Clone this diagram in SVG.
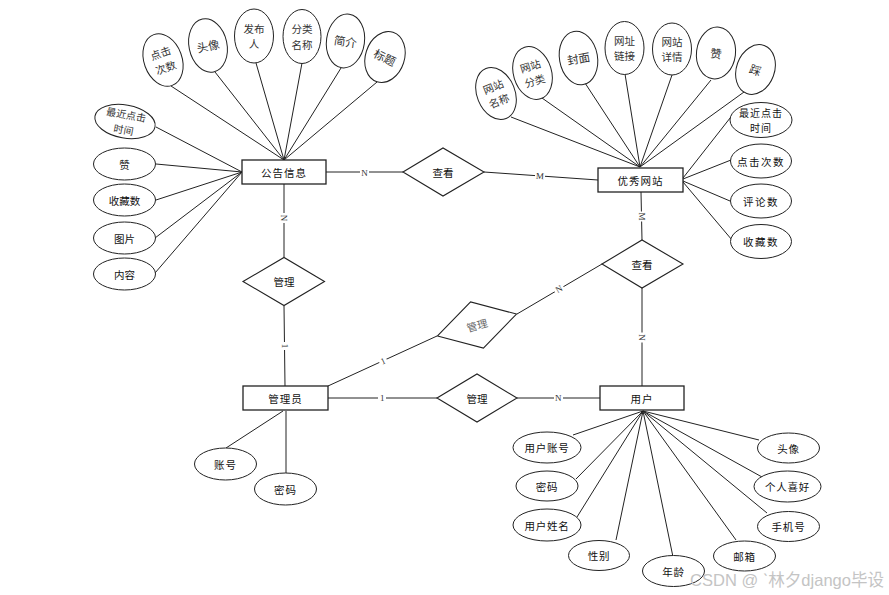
<svg xmlns="http://www.w3.org/2000/svg" width="889" height="595" viewBox="0 0 889 595">
<style>
  .ent { fill: #fff; stroke: #222; stroke-width: 1.3; }
  .rel { fill: #fff; stroke: #222; stroke-width: 1.1; }
  .att { fill: #fff; stroke: #222; stroke-width: 1; }
  .ln { stroke: #222; stroke-width: 1; fill: none; }
  .t { font-family: "Noto Sans CJK SC", "Liberation Sans", sans-serif; font-size: 10.5px; fill: #111; text-anchor: middle; dominant-baseline: central; }
  .te { letter-spacing: 1px; }
  .ts { font-size: 11.5px; fill: #333; }
  .t2 { font-size: 10.5px; fill: #333; }
  .lb { font-family: "Liberation Serif", serif; font-size: 9px; fill: #333; text-anchor: middle; dominant-baseline: central; }
  .lbg { fill: #fff; }
  .wm { font-family: "Liberation Sans", "Noto Sans CJK SC", sans-serif; font-size: 16.5px; fill: #c4c4c4; }
</style>
<rect width="889" height="595" fill="#fff"/>

<g id="connectors">
  <!-- 公告信息 top attributes -->
  <line class="ln" x1="171" y1="86" x2="284" y2="160"/>
  <line class="ln" x1="215" y1="72" x2="284" y2="160"/>
  <line class="ln" x1="256" y1="63" x2="284" y2="160"/>
  <line class="ln" x1="302" y1="63" x2="284" y2="160"/>
  <line class="ln" x1="341" y1="68" x2="284" y2="160"/>
  <line class="ln" x1="377" y1="82" x2="284" y2="160"/>
  <!-- 公告信息 left attributes -->
  <line class="ln" x1="156" y1="127" x2="242" y2="172"/>
  <line class="ln" x1="156" y1="164" x2="242" y2="172"/>
  <line class="ln" x1="156" y1="200" x2="242" y2="172"/>
  <line class="ln" x1="155" y1="238" x2="242" y2="172"/>
  <line class="ln" x1="155" y1="273" x2="242" y2="172"/>
  <!-- 优秀网站 top attributes -->
  <line class="ln" x1="511" y1="117" x2="640" y2="167"/>
  <line class="ln" x1="542" y1="98" x2="640" y2="167"/>
  <line class="ln" x1="585" y1="83" x2="640" y2="167"/>
  <line class="ln" x1="625" y1="74" x2="640" y2="167"/>
  <line class="ln" x1="672" y1="75" x2="640" y2="167"/>
  <line class="ln" x1="711" y1="80" x2="640" y2="167"/>
  <line class="ln" x1="744" y1="92" x2="640" y2="167"/>
  <!-- 优秀网站 right attributes -->
  <line class="ln" x1="683" y1="178" x2="734" y2="113"/>
  <line class="ln" x1="683" y1="179" x2="731" y2="160"/>
  <line class="ln" x1="683" y1="181" x2="730" y2="201"/>
  <line class="ln" x1="683" y1="182" x2="732" y2="240"/>
  <!-- 管理员 attributes -->
  <line class="ln" x1="283" y1="411" x2="226" y2="448"/>
  <line class="ln" x1="286" y1="411" x2="286" y2="473"/>
  <!-- 用户 attributes -->
  <line class="ln" x1="643" y1="411" x2="573" y2="435"/>
  <line class="ln" x1="643" y1="411" x2="576" y2="479"/>
  <line class="ln" x1="643" y1="411" x2="577" y2="517"/>
  <line class="ln" x1="643" y1="411" x2="616" y2="540"/>
  <line class="ln" x1="643" y1="411" x2="673" y2="557"/>
  <line class="ln" x1="643" y1="411" x2="736" y2="540"/>
  <line class="ln" x1="643" y1="411" x2="767" y2="513"/>
  <line class="ln" x1="643" y1="411" x2="762" y2="477"/>
  <line class="ln" x1="643" y1="411" x2="759" y2="440"/>
  <!-- relationship lines -->
  <line class="ln" x1="326" y1="172" x2="403" y2="172"/>
  <line class="ln" x1="484" y1="172" x2="598" y2="180"/>
  <line class="ln" x1="284" y1="184" x2="284" y2="257"/>
  <line class="ln" x1="284" y1="306" x2="285" y2="386"/>
  <line class="ln" x1="641" y1="192" x2="642" y2="240"/>
  <line class="ln" x1="642" y1="288" x2="642" y2="386"/>
  <line class="ln" x1="328" y1="398" x2="437" y2="398"/>
  <line class="ln" x1="517" y1="398" x2="600" y2="398"/>
  <line class="ln" x1="328" y1="386" x2="437" y2="336"/>
  <line class="ln" x1="517" y1="314" x2="602" y2="264"/>
  <!-- cardinality labels -->
  <g>
    <rect class="lbg" x="360" y="167" width="9" height="11"/>
    <text class="lb" x="364.5" y="172.5">N</text>
    <g transform="translate(540,176) rotate(4)"><rect class="lbg" x="-5" y="-5.5" width="10" height="11"/><text class="lb" x="0" y="0">M</text></g>
    <g transform="translate(284,218) rotate(90)"><rect class="lbg" x="-5" y="-5" width="10" height="10"/><text class="lb" x="0" y="0">N</text></g>
    <g transform="translate(285,346) rotate(90)"><rect class="lbg" x="-4" y="-4" width="8" height="8"/><text class="lb" x="0" y="0">1</text></g>
    <g transform="translate(641.5,216.5) rotate(90)"><rect class="lbg" x="-5" y="-5" width="10" height="10"/><text class="lb" x="0" y="0">M</text></g>
    <g transform="translate(642,337.5) rotate(90)"><rect class="lbg" x="-5" y="-5" width="10" height="10"/><text class="lb" x="0" y="0">N</text></g>
    <rect class="lbg" x="378" y="393" width="8" height="10"/>
    <text class="lb" x="382.3" y="398">1</text>
    <rect class="lbg" x="554" y="393" width="9" height="10"/>
    <text class="lb" x="558.3" y="398">N</text>
    <g transform="translate(383,361) rotate(-24.6)"><rect class="lbg" x="-4" y="-4" width="8" height="8"/><text class="lb" x="0" y="0">1</text></g>
    <g transform="translate(559,289) rotate(-30.5)"><rect class="lbg" x="-5" y="-4.5" width="10" height="9"/><text class="lb" x="0" y="0">N</text></g>
  </g>
</g>

<!-- entities -->
<g id="gonggao">
  <rect class="ent" x="242" y="160" width="84" height="24"/>
  <text class="t te" x="284" y="172">公告信息</text>
</g>
<g id="youxiu">
  <rect class="ent" x="598" y="168" width="85" height="24"/>
  <text class="t te" x="640.5" y="180">优秀网站</text>
</g>
<g id="guanliyuan">
  <rect class="ent" x="243" y="386" width="85" height="24"/>
  <text class="t te" x="285.5" y="398">管理员</text>
</g>
<g id="yonghu">
  <rect class="ent" x="600" y="386" width="84" height="24"/>
  <text class="t te" x="642" y="398">用户</text>
</g>

<!-- relationships -->
<g id="rel-chakan1">
  <polygon class="rel" points="403,172 443,148 484,172 443,196"/>
  <text class="t" x="443" y="172">查看</text>
</g>
<g id="rel-chakan2">
  <polygon class="rel" points="602,264 642,240 683,264 642,288"/>
  <text class="t" x="642" y="264">查看</text>
</g>
<g id="rel-guanli1">
  <polygon class="rel" points="243,281.5 284,257.5 324.5,281.5 284,305.5"/>
  <text class="t" x="284" y="281.5">管理</text>
</g>
<g id="rel-guanli2">
  <polygon class="rel" points="437,398 477,374 517,398 477,422"/>
  <text class="t" x="477" y="398">管理</text>
</g>
<g id="rel-guanli3" transform="translate(477,325) rotate(-15.5)">
  <polygon class="rel" points="-41,0 0,-24 41,0 0,24"/>
  <text class="t" x="0" y="0" style="fill:#666">管理</text>
</g>

<!-- 公告信息 attributes (top) -->
<g id="g-dianji" transform="translate(163,60) rotate(-20)">
  <ellipse class="att" rx="19" ry="27"/>
  <text class="t t2" y="-7.7">点击</text><text class="t t2" y="7.7">次数</text>
</g>
<g id="g-touxiang" transform="translate(208,45.5) rotate(-12)">
  <ellipse class="att" rx="19" ry="27"/>
  <text class="t ts" y="0">头像</text>
</g>
<g id="g-fabu" transform="translate(254,36)">
  <ellipse class="att" rx="19.5" ry="27"/>
  <text class="t t2" y="-7.7">发布</text><text class="t t2" y="7.7">人</text>
</g>
<g id="g-fenlei" transform="translate(302,36.5)">
  <ellipse class="att" rx="19" ry="27"/>
  <text class="t t2" y="-7.7">分类</text><text class="t t2" y="7.7">名称</text>
</g>
<g id="g-jianjie" transform="translate(345.5,41) rotate(8)">
  <ellipse class="att" rx="19" ry="27"/>
  <text class="t ts" y="0">简介</text>
</g>
<g id="g-biaoti" transform="translate(385,57) rotate(18)">
  <ellipse class="att" rx="19.5" ry="26"/>
  <text class="t ts" y="0" transform="rotate(8)">标题</text>
</g>
<!-- 公告信息 attributes (left) -->
<g id="g-zuijin" transform="translate(125,121.5) rotate(10)">
  <ellipse class="att" rx="30.5" ry="16.5"/>
  <text class="t t2" y="-7.6" style="font-size:10px">最近点击</text><text class="t t2" y="7.6" style="font-size:10px">时间</text>
</g>
<g id="g-zan"><ellipse class="att" cx="124.5" cy="164" rx="31" ry="16"/><text class="t" x="124.5" y="164">赞</text></g>
<g id="g-shoucang"><ellipse class="att" cx="124.5" cy="200" rx="31" ry="16"/><text class="t" x="124.5" y="200">收藏数</text></g>
<g id="g-tupian"><ellipse class="att" cx="124.5" cy="238" rx="31" ry="16"/><text class="t" x="124.5" y="238">图片</text></g>
<g id="g-neirong"><ellipse class="att" cx="124.5" cy="274" rx="31" ry="16"/><text class="t" x="124.5" y="274">内容</text></g>

<!-- 优秀网站 attributes (top) -->
<g id="y-mingcheng" transform="translate(496,93.5) rotate(-22)">
  <ellipse class="att" rx="19" ry="27"/>
  <text class="t t2" y="-7.7">网站</text><text class="t t2" y="7.7">名称</text>
</g>
<g id="y-fenlei" transform="translate(532.5,73) rotate(-17)">
  <ellipse class="att" rx="19" ry="27"/>
  <text class="t t2" y="-7.7">网站</text><text class="t t2" y="7.7">分类</text>
</g>
<g id="y-fengmian" transform="translate(578.5,58) rotate(-10)">
  <ellipse class="att" rx="19" ry="27"/>
  <text class="t ts" y="0">封面</text>
</g>
<g id="y-lianjie" transform="translate(624.5,48)">
  <ellipse class="att" rx="19.5" ry="26.5"/>
  <text class="t t2" y="-7.7">网址</text><text class="t t2" y="7.7">链接</text>
</g>
<g id="y-xiangqing" transform="translate(672,49)">
  <ellipse class="att" rx="19.5" ry="26"/>
  <text class="t t2" y="-7.7">网站</text><text class="t t2" y="7.7">详情</text>
</g>
<g id="y-zan" transform="translate(716,53) rotate(7)">
  <ellipse class="att" rx="19.5" ry="26"/>
  <text class="t ts" y="0">赞</text>
</g>
<g id="y-cai" transform="translate(755.5,69.5) rotate(20)">
  <ellipse class="att" rx="19" ry="25.5"/>
  <text class="t ts" y="0">踩</text>
</g>
<!-- 优秀网站 attributes (right) -->
<g id="y-zuijin"><ellipse class="att" cx="761" cy="120" rx="31" ry="17.5"/><text class="t" x="761" y="112.4" style="letter-spacing:1px;font-size:10px">最近点击</text><text class="t" x="761" y="127.6" style="letter-spacing:1px;font-size:10px">时间</text></g>
<g id="y-dianji"><ellipse class="att" cx="761" cy="161" rx="30.5" ry="17"/><text class="t" x="761" y="161" style="letter-spacing:1.5px">点击次数</text></g>
<g id="y-pinglun"><ellipse class="att" cx="761" cy="201" rx="30.5" ry="17"/><text class="t" x="761" y="201" style="letter-spacing:1.5px">评论数</text></g>
<g id="y-shoucang"><ellipse class="att" cx="761" cy="241.5" rx="30.5" ry="17"/><text class="t" x="761" y="241.5" style="letter-spacing:1.5px">收藏数</text></g>

<!-- 管理员 attributes -->
<g id="a-zhanghao"><ellipse class="att" cx="225.5" cy="464" rx="31" ry="16"/><text class="t te" x="225.5" y="464">账号</text></g>
<g id="a-mima"><ellipse class="att" cx="285.5" cy="489" rx="31" ry="16"/><text class="t te" x="285.5" y="489">密码</text></g>

<!-- 用户 attributes -->
<g id="u-zhanghao"><ellipse class="att" cx="547" cy="447.5" rx="34" ry="15.5"/><text class="t" x="547" y="447.5" style="letter-spacing:0.8px">用户账号</text></g>
<g id="u-mima"><ellipse class="att" cx="547" cy="486" rx="31" ry="15"/><text class="t" x="547" y="486" style="letter-spacing:0.8px">密码</text></g>
<g id="u-xingming"><ellipse class="att" cx="547" cy="525" rx="34" ry="16"/><text class="t" x="547" y="525" style="letter-spacing:0.8px">用户姓名</text></g>
<g id="u-xingbie"><ellipse class="att" cx="599" cy="555.5" rx="30.5" ry="15"/><text class="t" x="599" y="555.5" style="letter-spacing:0.8px">性别</text></g>
<g id="u-nianling"><ellipse class="att" cx="673.5" cy="571" rx="31" ry="15.5"/><text class="t" x="673.5" y="571" style="letter-spacing:0.8px">年龄</text></g>
<g id="u-youxiang"><ellipse class="att" cx="744.5" cy="556" rx="31" ry="15"/><text class="t" x="744.5" y="556" style="letter-spacing:0.8px">邮箱</text></g>
<g id="u-shouji"><ellipse class="att" cx="788.5" cy="526.5" rx="31" ry="15"/><text class="t" x="788.5" y="526.5" style="letter-spacing:0.8px">手机号</text></g>
<g id="u-xihao"><ellipse class="att" cx="787.5" cy="486.5" rx="33.5" ry="15.5"/><text class="t" x="787.5" y="486.5" style="letter-spacing:0.8px">个人喜好</text></g>
<g id="u-touxiang"><ellipse class="att" cx="788.5" cy="448" rx="31" ry="15"/><text class="t" x="788.5" y="448" style="letter-spacing:0.8px">头像</text></g>

<text class="wm" x="690" y="586" textLength="194" lengthAdjust="spacingAndGlyphs">CSDN @ ˋ林夕django毕设</text>
</svg>
